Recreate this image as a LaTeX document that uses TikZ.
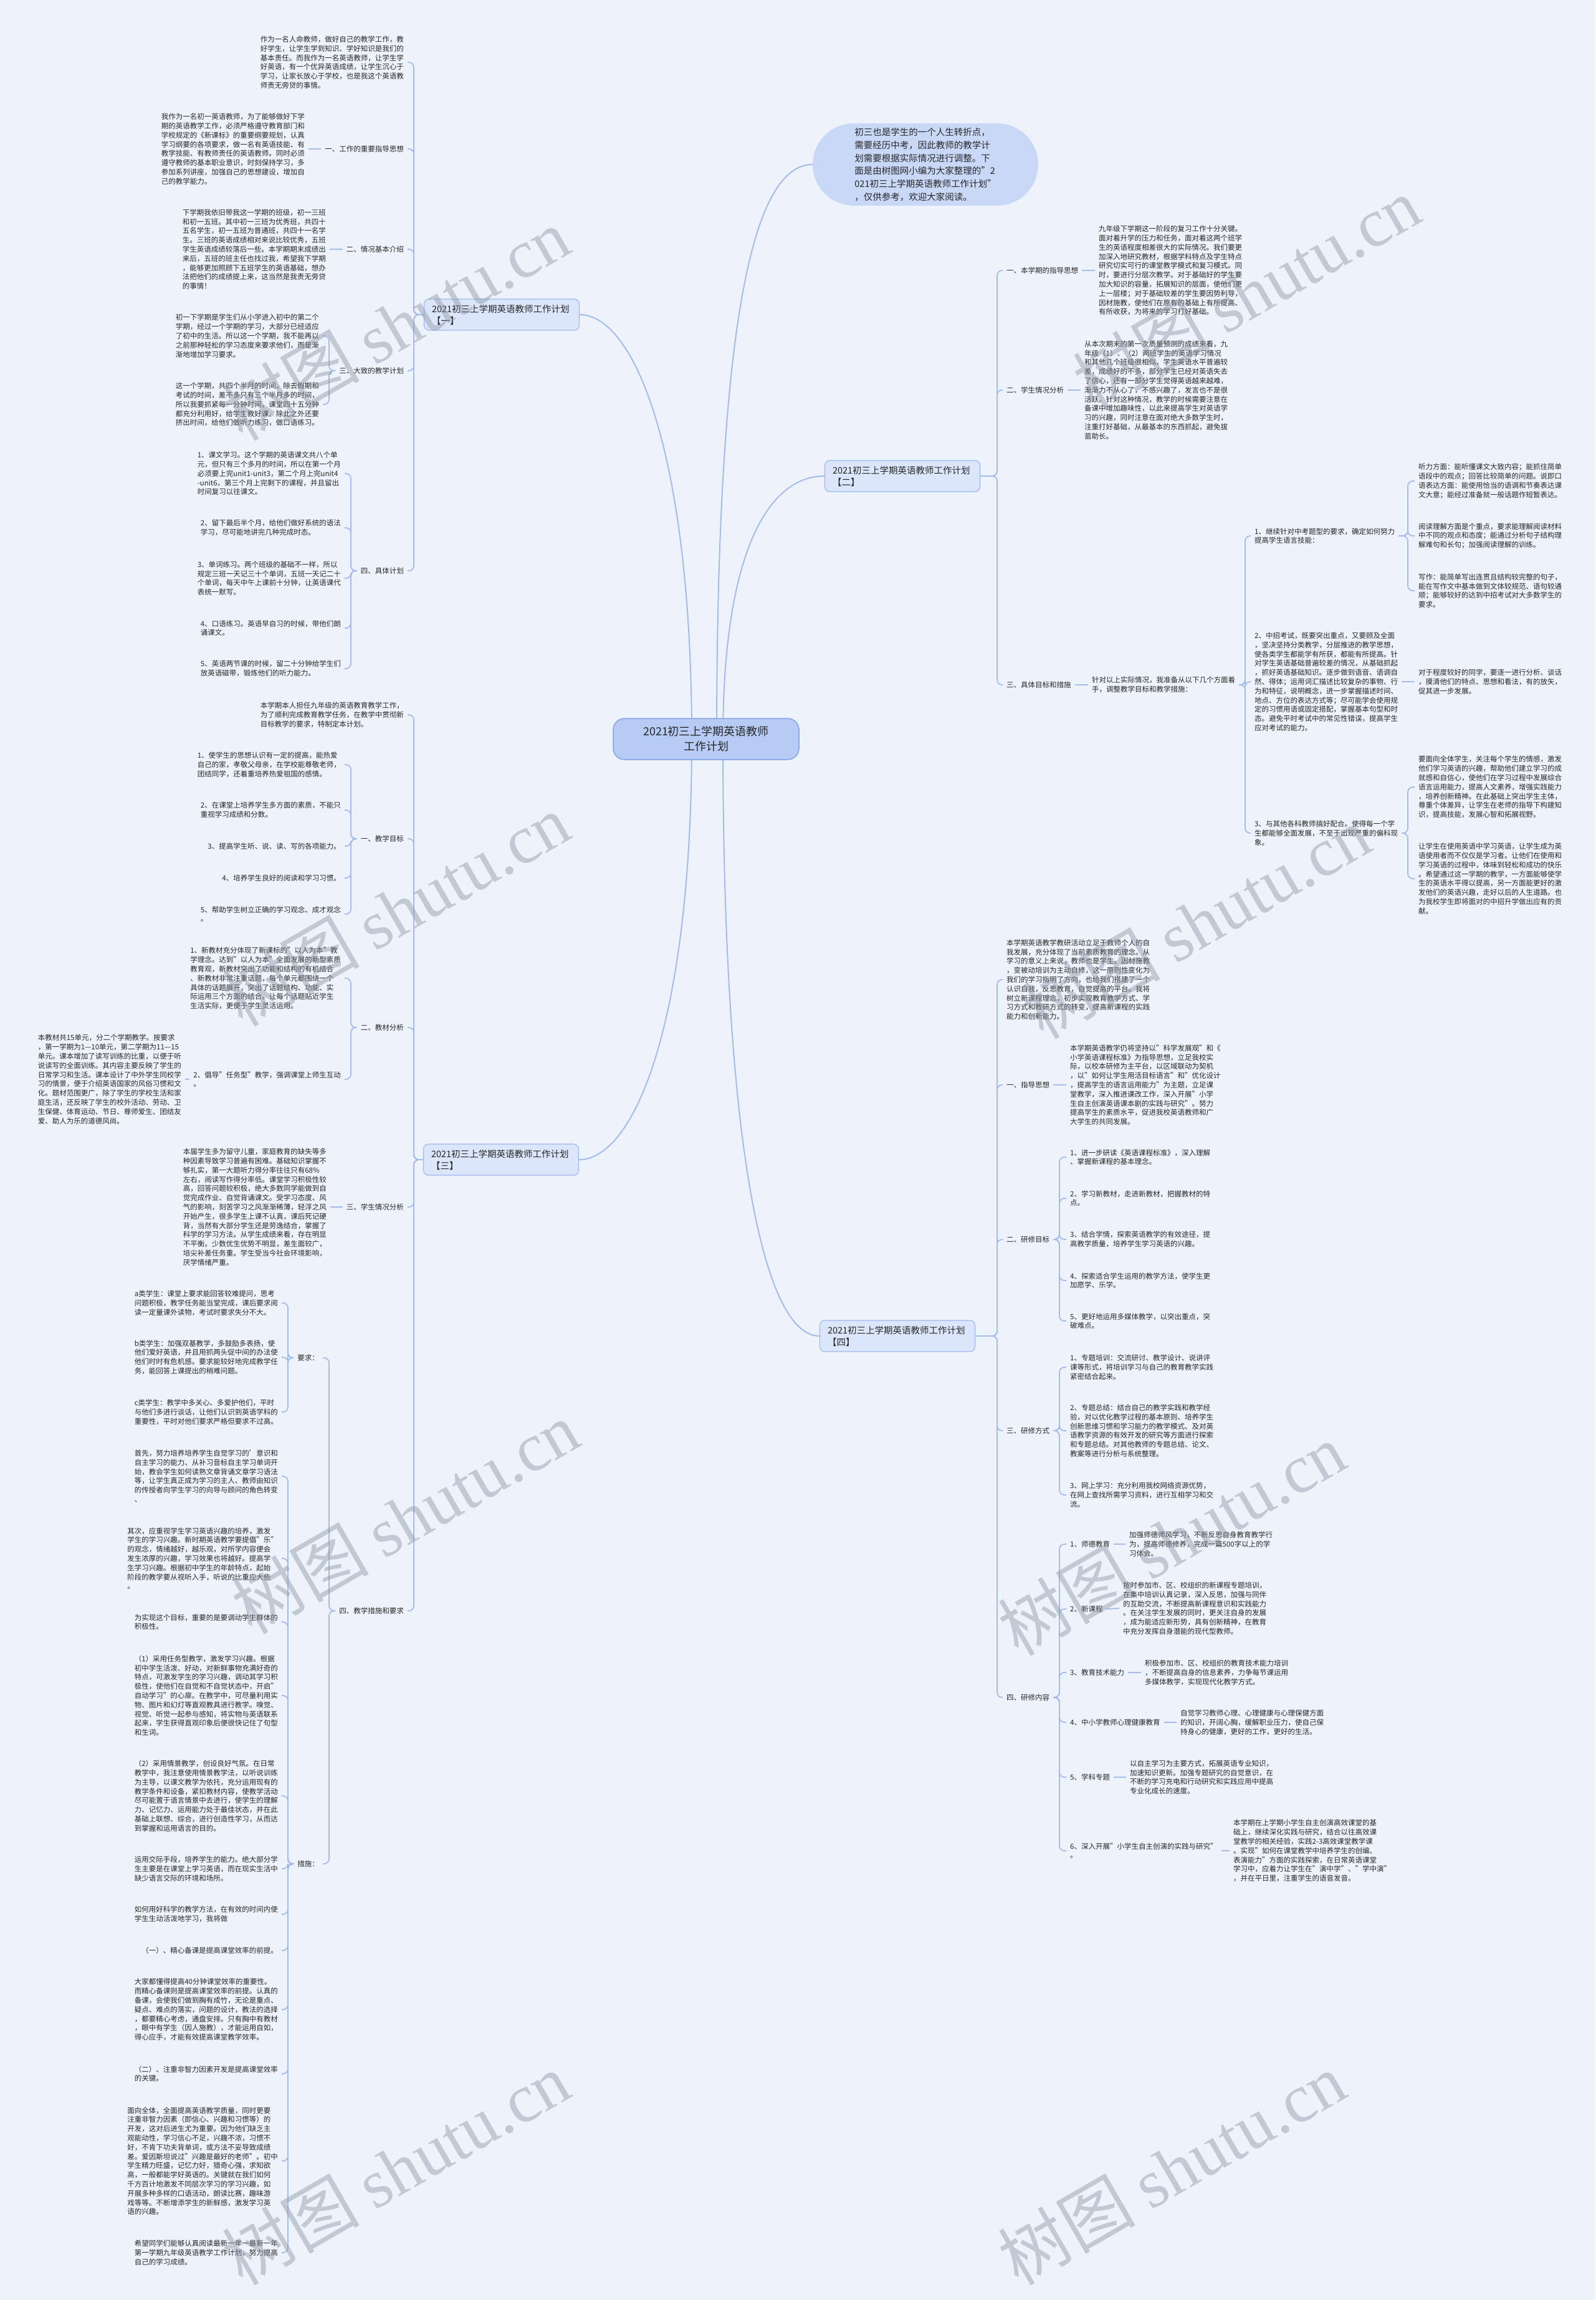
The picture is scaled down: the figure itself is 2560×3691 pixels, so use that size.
\documentclass[tikz,border=0pt]{standalone}
\usepackage{fontspec}
\setmainfont{Noto Sans CJK SC}
\newfontfamily\wmserif{Liberation Serif}
\definecolor{bgc}{HTML}{EEF3FB}
\definecolor{lc}{HTML}{A3BCEA}
\definecolor{txc}{HTML}{262626}
\definecolor{rootfill}{HTML}{B7CBF5}
\definecolor{rootdraw}{HTML}{84A3E6}
\definecolor{brfill}{HTML}{DCE6FA}
\definecolor{brdraw}{HTML}{9DB8EC}
\definecolor{bubfill}{HTML}{C9D8F7}
\definecolor{wmc}{HTML}{8E97A5}
\pgfdeclarelayer{bglayer}
\pgfsetlayers{bglayer,main}
\newcommand\myL[3]{\draw[conn] (#1.west) -- (#1.west -| #2) |- (#3.east);}
\newcommand\myR[3]{\draw[conn] (#1.east) -- (#1.east -| #2) |- (#3.west);}
\begin{document}
\begin{tikzpicture}[x=1pt,y=-1pt,
  conn/.style={draw=lc, line width=1.8pt, rounded corners=8pt},
  cc/.style={draw=lc, line width=2pt},
  tx/.style={font=\fontsize{11.5}{14.8}\selectfont, align=left, inner xsep=6pt, inner ysep=0pt, text=txc},
  lb/.style={font=\fontsize{11.5}{14.8}\selectfont, inner xsep=6pt, inner ysep=2pt, text=txc},
  br/.style={font=\fontsize{14.5}{19}\selectfont, align=left, text width=224pt, fill=brfill, draw=brdraw, line width=1.2pt, rounded corners=8pt, minimum height=50pt, inner xsep=12.5pt, inner ysep=4pt, text=txc},
  wm/.style={text=wmc, text opacity=0.45, rotate=30, font=\fontsize{110}{110}\selectfont}
]
\useasboundingbox (0,0) rectangle (2560,3691);
\begin{pgfonlayer}{bglayer}
\fill[bgc] (0,0) rectangle (2560,3691);
\end{pgfonlayer}

% ---------- root, bubble, branches ----------
\node[font=\fontsize{18}{24}\selectfont, align=center, fill=rootfill, draw=rootdraw, line width=1.5pt, rounded corners=18pt, minimum width=298pt, minimum height=66pt, text=txc] (root) at (1133,1186) {2021初三上学期英语教师\\工作计划};
\node[fill=bubfill, rounded corners=66pt, minimum width=362pt, minimum height=132pt, font=\fontsize{14.5}{20.7}\selectfont, align=left, text=txc] (bub) at (1485,264) {初三也是学生的一个人生转折点，\\需要经历中考，因此教师的教学计\\划需要根据实际情况进行调整。下\\面是由树图网小编为大家整理的"2\\021初三上学期英语教师工作计划"\\，仅供参考，欢迎大家阅读。};
\node[br] (b1) at (805,505) {2021初三上学期英语教师工作计划\\【一】};
\node[br] (b2) at (1448,764) {2021初三上学期英语教师工作计划\\【二】};
\node[br] (b3) at (804,1861) {2021初三上学期英语教师工作计划\\【三】};
\node[br] (b4) at (1440,2144) {2021初三上学期英语教师工作计划\\【四】};

\begin{pgfonlayer}{bglayer}
\draw[cc] ([xshift=17pt]root.center) .. controls +(0,-700) and +(-90,0) .. (bub.west);
\draw[cc] ([xshift=27pt]root.center) .. controls +(0,-300) and +(-90,0) .. (b2.west);
\draw[cc] ([xshift=-23pt]root.center) .. controls +(0,-450) and +(90,0) .. (b1.east);
\draw[cc] ([xshift=-23pt]root.center) .. controls +(0,450) and +(90,0) .. (b3.east);
\draw[cc] ([xshift=27pt]root.center) .. controls +(0,650) and +(-90,0) .. (b4.west);
\end{pgfonlayer}

% ---------- branch 一 ----------
\coordinate (s1) at (664,0);
\node[tx,anchor=east] (a1) at (654,100) {作为一名人命教师，做好自己的教学工作，教\\好学生，让学生学到知识、学好知识是我们的\\基本责任。而我作为一名英语教师，让学生学\\好英语，有一个优异英语成绩，让学生沉心于\\学习，让家长放心于学校，也是我这个英语教\\师责无旁贷的事情。};
\node[lb,anchor=east] (l11) at (654,239) {一、工作的重要指导思想};
\node[tx,anchor=east] (t111) at (495,239) {我作为一名初一英语教师，为了能够做好下学\\期的英语教学工作，必须严格遵守教育部门和\\学校规定的《新课标》的重要纲要规划，认真\\学习纲要的各项要求，做一名有英语技能、有\\教学技能、有教师责任的英语教师。同时必须\\遵守教师的基本职业意识，时刻保持学习，多\\参加系列讲座，加强自己的思想建设，增加自\\己的教学能力。};
\node[lb,anchor=east] (l12) at (654,400) {二、情况基本介绍};
\node[tx,anchor=east] (t121) at (529,400) {下学期我依旧带我这一学期的班级，初一三班\\和初一五班。其中初一三班为优秀班，共四十\\五名学生，初一五班为普通班，共四十一名学\\生。三班的英语成绩相对来说比较优秀，五班\\学生英语成绩较落后一些。本学期期末成绩出\\来后，五班的班主任也找过我，希望我下学期\\，能够更加照顾下五班学生的英语基础，想办\\法把他们的成绩提上来，这当然是我责无旁贷\\的事情！};
\node[lb,anchor=east] (l13) at (654,595) {三、大致的教学计划};
\coordinate (s13) at (528,0);
\node[tx,anchor=east] (t131) at (518,539) {初一下学期是学生们从小学进入初中的第二个\\学期，经过一个学期的学习，大部分已经适应\\了初中的生活。所以这一个学期，我不能再以\\之前那种轻松的学习态度来要求他们，而是渐\\渐地增加学习要求。};
\node[tx,anchor=east] (t132) at (518,649) {这一个学期，共四个半月的时间，除去假期和\\考试的时间，差不多只有三个半月多的时间，\\所以我要抓紧每一分钟时间，课堂四十五分钟\\都充分利用好，给学生教好课。除此之外还要\\挤出时间，给他们做听力练习，做口语练习。};
\node[lb,anchor=east] (l14) at (654,916) {四、具体计划};
\coordinate (s14) at (563,0);
\node[tx,anchor=east] (t141) at (553,760) {1、课文学习。这个学期的英语课文共八个单\\元，但只有三个多月的时间，所以在第一个月\\必须要上完unit1-unit3，第二个月上完unit4\\-unit6，第三个月上完剩下的课程，并且留出\\时间复习以往课文。};
\node[tx,anchor=east] (t142) at (553,847) {2、留下最后半个月，给他们做好系统的语法\\学习，尽可能地讲完几种完成时态。};
\node[tx,anchor=east] (t143) at (553,928) {3、单词练习。两个班级的基础不一样，所以\\规定三班一天记三十个单词，五班一天记二十\\个单词，每天中午上课前十分钟，让英语课代\\表统一默写。};
\node[tx,anchor=east] (t144) at (553,1008) {4、口语练习。英语早自习的时候，带他们朗\\诵课文。};
\node[tx,anchor=east] (t145) at (553,1073) {5、英语两节课的时候，留二十分钟给学生们\\放英语磁带，锻炼他们的听力能力。};

\myL{b1}{s1}{a1}
\myL{b1}{s1}{l11}
\myL{b1}{s1}{l12}
\myL{b1}{s1}{l13}
\myL{b1}{s1}{l14}
\draw[conn] (l11.west) -- (t111.east);
\draw[conn] (l12.west) -- (t121.east);
\myL{l13}{s13}{t131}
\myL{l13}{s13}{t132}
\myL{l14}{s14}{t141}
\myL{l14}{s14}{t142}
\myL{l14}{s14}{t143}
\myL{l14}{s14}{t144}
\myL{l14}{s14}{t145}

% ---------- branch 三 ----------
\coordinate (s3) at (664,0);
\node[tx,anchor=east] (a3) at (654,1147) {本学期本人担任九年级的英语教育教学工作，\\为了顺利完成教育教学任务，在教学中贯彻新\\目标教学的要求，特制定本计划。};
\node[lb,anchor=east] (l31) at (654,1346) {一、教学目标};
\coordinate (s31) at (563,0);
\node[tx,anchor=east] (t311) at (553,1227) {1、使学生的思想认识有一定的提高，能热爱\\自己的家，孝敬父母亲，在学校能尊敬老师，\\团结同学，还着重培养热爱祖国的感情。};
\node[tx,anchor=east] (t312) at (553,1300) {2、在课堂上培养学生多方面的素质，不能只\\重视学习成绩和分数。};
\node[tx,anchor=east] (t313) at (553,1358) {3、提高学生听、说、读、写的各项能力。};
\node[tx,anchor=east] (t314) at (553,1409) {4、培养学生良好的阅读和学习习惯。};
\node[tx,anchor=east] (t315) at (553,1467) {5、帮助学生树立正确的学习观念、成才观念\\。};
\node[lb,anchor=east] (l32) at (654,1649) {二、教材分析};
\node[tx,anchor=east] (t321) at (553,1570) {1、新教材充分体现了新课标的"以人为本"教\\学理念。达到"以人为本"全面发展的新型素质\\教育观，新教材突出了功能和结构的有机结合\\、新教材非常注重话题，每个单元都围绕一个\\具体的话题展开，突出了话题结构、功能、实\\际运用三个方面的结合。让每个话题贴近学生\\生活实际，更便于学生灵活运用。};
\node[tx,anchor=east] (t322) at (553,1732) {2、倡导"任务型"教学，强调课堂上师生互动\\。};
\node[tx,anchor=east] (t3221) at (297,1732) {本教材共15单元，分二个学期教学。按要求\\，第一学期为1—10单元，第二学期为11—15\\单元。课本增加了读写训练的比重，以便于听\\说读写的全面训练。其内容主要反映了学生的\\日常学习和生活。课本设计了中外学生同校学\\习的情景，便于介绍英语国家的风俗习惯和文\\化。题材范围更广，除了学生的学校生活和家\\庭生活，还反映了学生的校外活动、劳动、卫\\生保健、体育运动、节日、尊师爱生、团结友\\爱、助人为乐的道德风尚。};
\node[lb,anchor=east] (l33) at (654,1937) {三、学生情况分析};
\node[tx,anchor=east] (t331) at (530,1937) {本届学生多为留守儿童，家庭教育的缺失等多\\种因素导致学习普遍有困难。基础知识掌握不\\够扎实，第一大题听力得分率往往只有68\%\\左右，阅读写作得分率低。课堂学习积极性较\\高，回答问题较积极，绝大多数同学能做到自\\觉完成作业、自觉背诵课文。受学习态度、风\\气的影响，刻苦学习之风渐渐稀薄，轻浮之风\\开始产生，很多学生上课不认真，课后死记硬\\背，当然有大部分学生还是劳逸结合，掌握了\\科学的学习方法。从学生成绩来看，存在明显\\不平衡。少数优生优势不明显，差生面较广，\\培尖补差任务重。学生受当今社会环境影响，\\厌学情绪严重。};
\node[lb,anchor=east] (l34) at (654,2585) {四、教学措施和要求};
\coordinate (s34) at (528,0);
\node[lb,anchor=east] (q1) at (518,2179) {要求：};
\node[lb,anchor=east] (q2) at (518,2991) {措施：};
\coordinate (sq) at (462,0);
\node[tx,anchor=east] (r1) at (452,2091) {a类学生：课堂上要求能回答较难提问，思考\\问题积极，教学任务能当堂完成，课后要求阅\\读一定量课外读物，考试时要求失分不大。};
\node[tx,anchor=east] (r2) at (452,2178) {b类学生：加强双基教学，多鼓励多表扬，使\\他们爱好英语，并且用抓两头促中间的办法使\\他们时时有危机感。要求能较好地完成教学任\\务，能回答上课提出的稍难问题。};
\node[tx,anchor=east] (r3) at (452,2266) {c类学生：教学中多关心、多爱护他们，平时\\与他们多进行谈话，让他们认识到英语学科的\\重要性，平时对他们要求严格但要求不过高。};
\node[tx,anchor=east] (m1) at (452,2369) {首先，努力培养培养学生自觉学习的'意识和\\自主学习的能力、从补习音标自主学习单词开\\始，教会学生如何读熟文章背诵文章学习语法\\等，让学生真正成为学习的主人、教师由知识\\的传授者向学生学习的向导与顾问的角色转变\\、};
\node[tx,anchor=east] (m2) at (452,2501) {其次，应重视学生学习英语兴趣的培养，激发\\学生的学习兴趣。新时期英语教学要提倡"乐"\\的观念，情绪越好，越乐观，对所学内容便会\\发生浓厚的兴趣，学习效果也将越好。提高学\\生学习兴趣。根据初中学生的年龄特点，起始\\阶段的教学要从视听入手，听说的比重应大些\\。};
\node[tx,anchor=east] (m3) at (452,2603) {为实现这个目标，重要的是要调动学生群体的\\积极性。};
\node[tx,anchor=east] (m4) at (452,2721) {（1）采用任务型教学，激发学习兴趣。根据\\初中学生活泼、好动，对新鲜事物充满好奇的\\特点，可激发学生的学习兴趣，调动其学习积\\极性，使他们在自觉和不自觉状态中，开启"\\自动学习"的心扉。在教学中，可尽量利用实\\物、图片和幻灯等直观教具进行教学。嗅觉、\\视觉、听觉一起参与感知，将实物与英语联系\\起来，学生获得直观印象后便很快记住了句型\\和生词。};
\node[tx,anchor=east] (m5) at (452,2882) {（2）采用情景教学，创设良好气氛。在日常\\教学中，我注意使用情景教学法，以听说训练\\为主导，以课文教学为依托，充分运用现有的\\教学条件和设备，紧扣教材内容，使教学活动\\尽可能置于语言情景中去进行，使学生的理解\\力、记忆力、运用能力处于最佳状态，并在此\\基础上联想、综合，进行创造性学习，从而达\\到掌握和运用语言的目的。};
\node[tx,anchor=east] (m6) at (452,2999) {运用交际手段，培养学生的能力。绝大部分学\\生主要是在课堂上学习英语，而在现实生活中\\缺少语言交际的环境和场所。};
\node[tx,anchor=east] (m7) at (452,3072) {如何用好科学的教学方法，在有效的时间内使\\学生生动活泼地学习，我将做};
\node[tx,anchor=east] (m8) at (452,3130) {（一）、精心备课是提高课堂效率的前提。};
\node[tx,anchor=east] (m9) at (452,3225) {大家都懂得提高40分钟课堂效率的重要性。\\而精心备课则是提高课堂效率的前提。认真的\\备课，会使我们做到胸有成竹，无论是重点、\\疑点、难点的落实，问题的设计，教法的选择\\，都要精心考虑，通盘安排。只有胸中有教材\\，眼中有学生（因人施教），才能运用自如，\\得心应手，才能有效提高课堂教学效率。};
\node[tx,anchor=east] (m10) at (452,3328) {（二）、注重非智力因素开发是提高课堂效率\\的关键。};
\node[tx,anchor=east] (m11) at (452,3468) {面向全体，全面提高英语教学质量，同时更要\\注重非智力因素（即信心、兴趣和习惯等）的\\开发，这对后进生尤为重要。因为他们缺乏主\\观能动性，学习信心不足，兴趣不浓，习惯不\\好，不肯下功夫背单词，或方法不妥导致成绩\\差。爱因斯坦说过"兴趣是最好的老师"。初中\\学生精力旺盛，记忆力好，猎奇心强，求知欲\\高，一般都能学好英语的。关键就在我们如何\\千方百计地激发不同层次学习的学习兴趣，如\\开展多种多样的口语活动，朗读比赛，趣味游\\戏等等。不断增添学生的新鲜感，激发学习英\\语的兴趣。};
\node[tx,anchor=east] (m12) at (452,3615) {希望同学们能够认真阅读最新一年一最新一年\\第一学期九年级英语教学工作计划，努力提高\\自己的学习成绩。};

\myL{b3}{s3}{a3}
\myL{b3}{s3}{l31}
\myL{b3}{s3}{l32}
\myL{b3}{s3}{l33}
\myL{b3}{s3}{l34}
\myL{l31}{s31}{t311}
\myL{l31}{s31}{t312}
\myL{l31}{s31}{t313}
\myL{l31}{s31}{t314}
\myL{l31}{s31}{t315}
\myL{l32}{s31}{t321}
\myL{l32}{s31}{t322}
\draw[conn] (t322.west) -- (t3221.east);
\draw[conn] (l33.west) -- (t331.east);
\myL{l34}{s34}{q1}
\myL{l34}{s34}{q2}
\myL{q1}{sq}{r1}
\myL{q1}{sq}{r2}
\myL{q1}{sq}{r3}
\foreach \k in {m1,m2,m3,m4,m5,m6,m7,m8,m9,m10,m11,m12} {\myL{q2}{sq}{\k}}

% ---------- branch 二 ----------
\coordinate (s2) at (1600,0);
\node[lb,anchor=west] (l21) at (1609,434) {一、本学期的指导思想};
\node[tx,anchor=west] (t211) at (1757,434) {九年级下学期这一阶段的复习工作十分关键。\\面对着升学的压力和任务，面对着这两个班学\\生的英语程度相差很大的实际情况。我们要更\\加深入地研究教材，根据学科特点及学生特点\\研究切实可行的课堂教学模式和复习模式。同\\时，要进行分层次教学。对于基础好的学生要\\加大知识的容量，拓展知识的层面，使他们更\\上一层楼；对于基础较差的学生要因势利导，\\因材施教，使他们在原有的基础上有所提高、\\有所收获，为将来的学习打好基础。};
\node[lb,anchor=west] (l22) at (1609,626) {二、学生情况分析};
\node[tx,anchor=west] (t221) at (1734,626) {从本次期末的第一次质量预测的成绩来看，九\\年级（1）、（2）两班学生的英语学习情况\\和其他几个班级很相似，学生英语水平普遍较\\差，成绩好的不多，部分学生已经对英语失去\\了信心，还有一部分学生觉得英语越来越难，\\渐渐力不从心了，不感兴趣了，发言也不是很\\活跃。针对这种情况，教学的时候需要注意在\\备课中增加趣味性，以此来提高学生对英语学\\习的兴趣，同时注意在面对绝大多数学生时，\\注重打好基础，从最基本的东西抓起，避免拔\\苗助长。};
\node[lb,anchor=west] (l23) at (1609,1099) {三、具体目标和措施};
\node[tx,anchor=west] (t231) at (1746,1099) {针对以上实际情况，我准备从以下几个方面着\\手，调整教学目标和教学措施：};
\coordinate (s23) at (1998,0);
\node[tx,anchor=west] (k1) at (2007,860) {1、继续针对中考题型的要求，确定如何努力\\提高学生语言技能：};
\node[tx,anchor=west] (k2) at (2007,1094) {2、中招考试，既要突出重点，又要顾及全面\\，坚决坚持分类教学，分层推进的教学思想，\\使各类学生都能学有所获，都能有所提高。针\\对学生英语基础普遍较差的情况，从基础抓起\\，抓好英语基础知识。逐步做到语音、语调自\\然、得体；运用词汇描述比较复杂的事物、行\\为和特征，说明概念，进一步掌握描述时间、\\地点、方位的表达方式等；尽可能学会使用规\\定的习惯用语或固定搭配，掌握基本句型和时\\态。避免平时考试中的常见性错误，提高学生\\应对考试的能力。};
\node[tx,anchor=west] (k3) at (2007,1337) {3、与其他各科教师搞好配合。使得每一个学\\生都能够全面发展，不至于出现严重的偏科现\\象。};
\coordinate (sk) at (2259,0);
\node[tx,anchor=west] (k11) at (2270,772) {听力方面：能听懂课文大致内容；能抓住简单\\语段中的观点；回答比较简单的问题。说即口\\语表达方面：能使用恰当的语调和节奏表达课\\文大意；能经过准备就一般话题作短暂表达。};
\node[tx,anchor=west] (k12) at (2270,860) {阅读理解方面是个重点，要求能理解阅读材料\\中不同的观点和态度；能通过分析句子结构理\\解难句和长句；加强阅读理解的训练。};
\node[tx,anchor=west] (k13) at (2270,948) {写作：能简单写出连贯且结构较完整的句子，\\能在写作文中基本做到文体较规范、语句较通\\顺；能够较好的达到中招考试对大多数学生的\\要求。};
\node[tx,anchor=west] (k21) at (2270,1094) {对于程度较好的同学，要逐一进行分析、谈话\\，摸清他们的特点、思想和看法，有的放矢，\\促其进一步发展。};
\node[tx,anchor=west] (k31) at (2270,1263) {要面向全体学生，关注每个学生的情感，激发\\他们学习英语的兴趣，帮助他们建立学习的成\\就感和自信心，使他们在学习过程中发展综合\\语言运用能力，提高人文素养，增强实践能力\\，培养创新精神。在此基础上突出学生主体，\\尊重个体差异，让学生在老师的指导下构建知\\识，提高技能，发展心智和拓展视野。};
\node[tx,anchor=west] (k32) at (2270,1410) {让学生在使用英语中学习英语，让学生成为英\\语使用者而不仅仅是学习者。让他们在使用和\\学习英语的过程中，体味到轻松和成功的快乐\\。希望通过这一学期的教学，一方面能够使学\\生的英语水平得以提高，另一方面能更好的激\\发他们的英语兴趣，走好以后的人生道路。也\\为我校学生即将面对的中招升学做出应有的贡\\献。};

\myR{b2}{s2}{l21}
\myR{b2}{s2}{l22}
\myR{b2}{s2}{l23}
\draw[conn] (l21.east) -- (t211.west);
\draw[conn] (l22.east) -- (t221.west);
\draw[conn] (l23.east) -- (t231.west);
\myR{t231}{s23}{k1}
\myR{t231}{s23}{k2}
\myR{t231}{s23}{k3}
\myR{k1}{sk}{k11}
\myR{k1}{sk}{k12}
\myR{k1}{sk}{k13}
\draw[conn] (k2.east) -- (k21.west);
\myR{k3}{sk}{k31}
\myR{k3}{sk}{k32}

% ---------- branch 四 ----------
\coordinate (s4) at (1600,0);
\node[tx,anchor=west] (d0) at (1609,1572) {本学期英语教学教研活动立足于教师个人的自\\我发展，充分体现了当前素质教育的理念。从\\学习的意义上来说，教师也是学生。因材施教\\，变被动培训为主动自修，这一原则性变化为\\我们的学习指明了方向，也给我们搭建了一个\\认识自我，反思教育，自觉提高的平台。我将\\树立新课程理念，初步实现教育教学方式、学\\习方式和教研方式的转变，提高新课程的实践\\能力和创新能力。};
\node[lb,anchor=west] (l41) at (1609,1741) {一、指导思想};
\node[tx,anchor=west] (t411) at (1711,1741) {本学期英语教学仍将坚持以"科学发展观"和《\\小学英语课程标准》为指导思想，立足我校实\\际，以校本研修为主平台，以区域联动为契机\\，以"如何让学生用活目标语言"和"优化设计\\，提高学生的语言运用能力"为主题，立足课\\堂教学，深入推进课改工作，深入开展"小学\\生自主创演英语课本剧的实践与研究"。努力\\提高学生的素质水平，促进我校英语教师和广\\大学生的共同发展。};
\node[lb,anchor=west] (l42) at (1609,1989) {二、研修目标};
\coordinate (s42) at (1700,0);
\node[tx,anchor=west] (g1) at (1711,1857) {1、进一步研读《英语课程标准》，深入理解\\、掌握新课程的基本理念。};
\node[tx,anchor=west] (g2) at (1711,1923) {2、学习新教材，走进新教材，把握教材的特\\点。};
\node[tx,anchor=west] (g3) at (1711,1989) {3、结合学情，探索英语教学的有效途径，提\\高教学质量，培养学生学习英语的兴趣。};
\node[tx,anchor=west] (g4) at (1711,2055) {4、探索适合学生运用的教学方法，使学生更\\加愿学、乐学。};
\node[tx,anchor=west] (g5) at (1711,2120) {5、更好地运用多媒体教学，以突出重点，突\\破难点。};
\node[lb,anchor=west] (l43) at (1609,2296) {三、研修方式};
\node[tx,anchor=west] (h1) at (1711,2194) {1、专题培训：交流研讨、教学设计、说讲评\\课等形式，将培训学习与自己的教育教学实践\\紧密结合起来。};
\node[tx,anchor=west] (h2) at (1711,2296) {2、专题总结：结合自己的教学实践和教学经\\验，对以优化教学过程的基本原则、培养学生\\创新思维习惯和学习能力的教学模式、及对英\\语教学资源的有效开发的研究等方面进行探索\\和专题总结。对其他教师的专题总结、论文、\\教案等进行分析与系统整理。};
\node[tx,anchor=west] (h3) at (1711,2399) {3、网上学习：充分利用我校网络资源优势，\\在网上查找所需学习资料，进行互相学习和交\\流。};
\node[lb,anchor=west] (l44) at (1609,2724) {四、研修内容};
\node[lb,anchor=west] (n1) at (1711,2478) {1、师德教育};
\node[tx,anchor=west] (o1) at (1806,2478) {加强师德师风学习，不断反思自身教育教学行\\为，提高师德修养，完成一篇500字以上的学\\习体会。};
\node[lb,anchor=west] (n2) at (1711,2582) {2、新课程};
\node[tx,anchor=west] (o2) at (1796,2581) {按时参加市、区、校组织的新课程专题培训，\\在集中培训认真记录，深入反思，加强与同伴\\的互助交流，不断提高新课程意识和实践能力\\。在关注学生发展的同时，更关注自身的发展\\，成为能适应新形势，具有创新精神，在教育\\中充分发挥自身潜能的现代型教师。};
\node[lb,anchor=west] (n3) at (1711,2684) {3、教育技术能力};
\node[tx,anchor=west] (o3) at (1831,2684) {积极参加市、区、校组织的教育技术能力培训\\，不断提高自身的信息素养，力争每节课运用\\多媒体教学，实现现代化教学方式。};
\node[lb,anchor=west] (n4) at (1711,2764) {4、中小学教师心理健康教育};
\node[tx,anchor=west] (o4) at (1888,2764) {自觉学习教师心理、心理健康与心理保健方面\\的知识，开阔心胸，缓解职业压力，使自己保\\持身心的健康，更好的工作，更好的生活。};
\node[lb,anchor=west] (n5) at (1711,2852) {5、学科专题};
\node[tx,anchor=west] (o5) at (1807,2852) {以自主学习为主要方式，拓展英语专业知识，\\加速知识更新。加强专题研究的自觉意识，在\\不断的学习充电和行动研究和实践应用中提高\\专业化成长的速度。};
\node[tx,anchor=west] (n6) at (1711,2970) {6、深入开展"小学生自主创演的实践与研究"\\。};
\node[tx,anchor=west] (o6) at (1973,2970) {本学期在上学期小学生自主创演高效课堂的基\\础上，继续深化实践与研究，结合以往高效课\\堂教学的相关经验，实践2-3高效课堂教学课\\。实现"如何在课堂教学中培养学生的创编、\\表演能力"方面的实践探索，在日常英语课堂\\学习中，应着力让学生在"演中学"、"学中演"\\，并在平日里，注重学生的语音发音。};

\myR{b4}{s4}{d0}
\myR{b4}{s4}{l41}
\myR{b4}{s4}{l42}
\myR{b4}{s4}{l43}
\myR{b4}{s4}{l44}
\draw[conn] (l41.east) -- (t411.west);
\foreach \k in {g1,g2,g3,g4,g5} {\myR{l42}{s42}{\k}}
\foreach \k in {h1,h2,h3} {\myR{l43}{s42}{\k}}
\foreach \k in {n1,n2,n3,n4,n5,n6} {\myR{l44}{s42}{\k}}
\draw[conn] (n1.east) -- (o1.west);
\draw[conn] (n2.east) -- (o2.west);
\draw[conn] (n3.east) -- (o3.west);
\draw[conn] (n4.east) -- (o4.west);
\draw[conn] (n5.east) -- (o5.west);
\draw[conn] (n6.east) -- (o6.west);

% ---------- watermarks ----------
\foreach \wx/\wy [count=\i] in {635/520, 2000/470, 635/1460, 1920/1480, 650/2435, 1880/2470, 635/3480, 1880/3480} {
  \node[wm] (wm\i) at (\wx,\wy) {树图 {\wmserif shutu.cn}};
}
\end{tikzpicture}
\end{document}
